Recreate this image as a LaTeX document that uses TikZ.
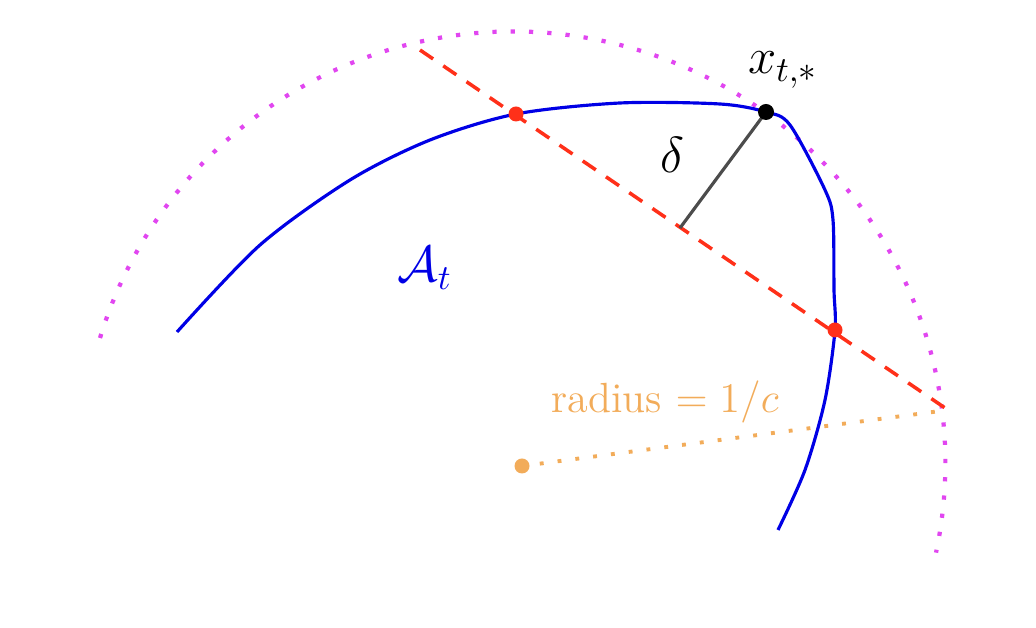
\documentclass[tikz,border=0pt]{standalone}
\begin{document}
\begin{tikzpicture}[x=0.01cm,y=-0.01cm,
  reddot/.style={circle,fill=red!80!orange!90,inner sep=0pt,minimum size=0.15cm},
  dashline/.style={red!80!orange!90,line width=1pt,dash pattern=on 4.5pt off 3.5pt}]
\definecolor{mag}{RGB}{225,70,240}
\definecolor{org}{RGB}{242,172,90}
\useasboundingbox (0,0) rectangle (1036,628);
\coordinate (C) at (522,466);
\coordinate (P) at (948,410);
\coordinate (L) at (420,50);
\coordinate (F) at (680,228);
\draw[mag,line width=1.2pt,dash pattern=on 1.2pt off 4pt] (100,338) arc[start angle=196.9,end angle=371.9,radius=432];
\draw[blue!90!black,line width=0.9pt] plot[smooth,tension=0.5] coordinates{(177,332) (260,245) (350,180) (430,140) (516,114) (620,103) (720,104) (766,112) (790,125) (825,190) (833,220) (834,290) (835,330) (825,400) (805,470) (778,530)};
\draw[dashline] (L) -- (P);
\draw[org,line width=1.1pt,dash pattern=on 1.1pt off 4pt] (C) -- (P);
\node[circle,fill=org,inner sep=0pt,minimum size=0.15cm] (c) at (C) {};
\draw[black!70,line width=0.9pt] (766,112) coordinate (X) -- (F);
\node[reddot] (r1) at (516,114) {};
\node[reddot] (r2) at (835,330) {};
\node[circle,fill=black,inner sep=0pt,minimum size=0.16cm] (x) at (X) {};
\node[font=\Large] (d) at (672,155) {$\delta$};
\node[font=\Large] (xl) at (783,70) {$x_{t,*}$};
\node[font=\Large,text=blue!90!black] (A) at (425,268) {$\mathcal{A}_t$};
\node[font=\large,text=org] (rad) at (665,402) {radius $=1/c$};
\end{tikzpicture}
\end{document}
